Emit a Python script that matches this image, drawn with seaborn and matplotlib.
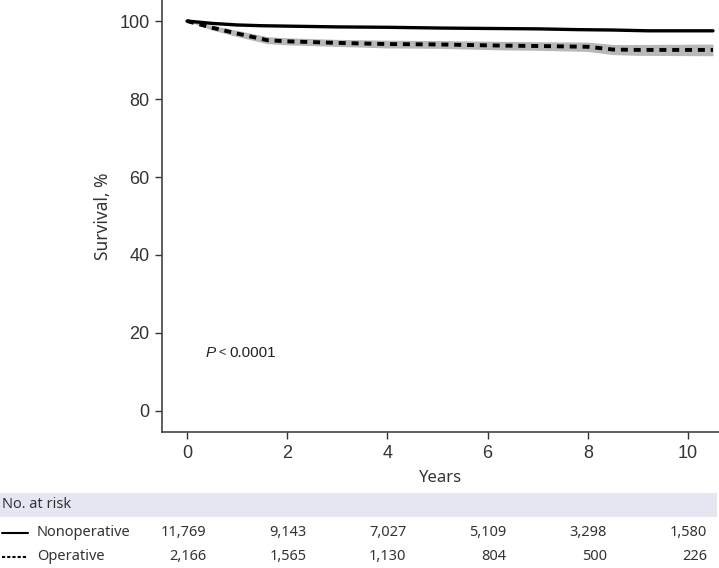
import numpy as np
import pandas as pd
import matplotlib
matplotlib.use('Agg')
import matplotlib.pyplot as plt
import matplotlib.transforms as mtransforms
from matplotlib.patches import Rectangle
from matplotlib.lines import Line2D
import seaborn as sns

sns.set_style('ticks')
plt.rcParams['font.family'] = ['Liberation Sans', 'DejaVu Sans']

# survival curves
years_non = [0, 0.5, 1, 1.5, 2, 3, 4, 5.1, 6, 7, 7.8, 8.5, 9.2, 10.5]
surv_non = [100, 99.4, 99.0, 98.8, 98.7, 98.5, 98.4, 98.2, 98.1, 98.0, 97.8, 97.7, 97.5, 97.5]

years_op = [0, 0.5, 1, 1.6, 2, 3, 4, 5, 6.3, 7, 8, 8.5, 9, 10.5]
surv_op = [100, 98.3, 96.8, 95.1, 94.8, 94.4, 94.1, 94.0, 93.7, 93.6, 93.4, 92.7, 92.6, 92.6]
ci_op = [0.0, 0.6, 0.8, 0.9, 0.9, 0.9, 1.0, 1.0, 1.1, 1.1, 1.2, 1.3, 1.4, 1.5]

# numbers at risk
risk_years = [0, 2, 4, 6, 8, 10]
risk_non = ['11,769', '9,143', '7,027', '5,109', '3,298', '1,580']
risk_op = ['2,166', '1,565', '1,130', '804', '500', '226']

df_non = pd.DataFrame({'Years': years_non, 'Survival': surv_non})
df_op = pd.DataFrame({'Years': years_op, 'Survival': surv_op})

fig = plt.figure(figsize=(7.19, 5.68), dpi=100)
ax = fig.add_axes([162/719, 1 - 432/568, 1 - 162/719, 432/568])

lo = np.array(surv_op) - np.array(ci_op)
hi = np.array(surv_op) + np.array(ci_op)
ax.fill_between(years_op, lo, hi, color='#b8b8b8', lw=0, zorder=1)

sns.lineplot(data=df_non, x='Years', y='Survival', ax=ax, color='black', lw=2.4, zorder=3)
sns.lineplot(data=df_op, x='Years', y='Survival', ax=ax, color='black', lw=2.8,
             zorder=3, dashes=False, linestyle=(0, (1.8, 1.5)))

ax.set_xlim(-0.5, 10.62)
ax.set_ylim(-5.4, 105.4)
ax.set_xticks(risk_years)
ax.set_yticks([0, 20, 40, 60, 80, 100])
ax.tick_params(labelsize=13, colors='#333333', length=5, width=1, pad=4)
for s in ['top', 'right']:
    ax.spines[s].set_visible(False)
for s in ['left', 'bottom']:
    ax.spines[s].set_color('#444444')
    ax.spines[s].set_linewidth(1.2)

ax.set_xlabel('Years', family='Noto Sans', fontsize=12, color='#333333', labelpad=6)
ax.set_ylabel('Survival, %', family='Noto Sans', fontsize=12.5, color='#333333', labelpad=5)

ax.text(0.36, 14.9, 'P', style='italic', fontsize=11, color='#222222', va='center')
ax.text(0.63, 14.9, '<', fontsize=9, color='#222222', va='center')
ax.text(0.84, 14.9, '0.0001', fontsize=11, color='#222222', va='center')

# risk table
fig.patches.append(Rectangle((0, 1 - 517/568), 717/719, 24/568, transform=fig.transFigure,
                             facecolor='#e6e6f2', edgecolor='none', zorder=0))
fig.text(2/719, 1 - 505/568, 'No. at risk', family='Noto Sans', fontsize=10.5,
         color='#333333', va='center')

trans = mtransforms.blended_transform_factory(ax.transData, fig.transFigure)
row_y = [1 - 533/568, 1 - 557/568]
fig.lines.append(Line2D([2/719, 28/719], [row_y[0], row_y[0]], transform=fig.transFigure,
                        color='black', lw=1.5))
fig.lines.append(Line2D([2/719, 28/719], [row_y[1], row_y[1]], transform=fig.transFigure,
                        color='black', lw=1.5, linestyle=(0, (1.5, 1.0))))
fig.text(37/719, row_y[0], 'Nonoperative', family='Noto Sans', fontsize=10.5,
         color='#333333', va='center')
fig.text(37/719, row_y[1], 'Operative', family='Noto Sans', fontsize=10.5,
         color='#333333', va='center')
for t, a, b in zip(risk_years, risk_non, risk_op):
    fig.text(t + 0.38, row_y[0], a, transform=trans, ha='right', va='center',
             family='Noto Sans', fontsize=10.5, color='#333333')
    fig.text(t + 0.38, row_y[1], b, transform=trans, ha='right', va='center',
             family='Noto Sans', fontsize=10.5, color='#333333')

fig.savefig('out.png', dpi=100)
